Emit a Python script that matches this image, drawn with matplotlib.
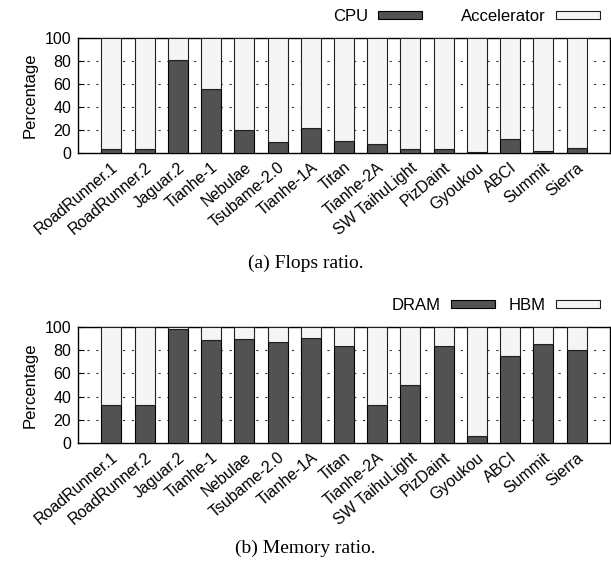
import matplotlib
matplotlib.use('Agg')
import matplotlib.pyplot as plt
import numpy as np

systems = ['RoadRunner.1', 'RoadRunner.2', 'Jaguar.2', 'Tianhe-1', 'Nebulae',
           'Tsubame-2.0', 'Tianhe-1A', 'Titan', 'Tianhe-2A', 'SW TaihuLight',
           'PizDaint', 'Gyoukou', 'ABCI', 'Summit', 'Sierra']

# (a) flops ratio, CPU share in percent (rest is accelerator)
cpu_flops = [3, 3, 81, 55, 20, 9, 22, 10, 8, 3, 3, 1, 12, 2, 4]
# (b) memory ratio, DRAM share in percent (rest is HBM)
dram_mem = [33, 33, 98, 89, 90, 87, 91, 84, 33, 50, 84, 6, 75, 85, 80]

plt.rcParams['font.family'] = ['Liberation Sans', 'DejaVu Sans']
plt.rcParams['font.size'] = 11.5

dark = '#525252'
light = '#f5f5f5'

fig = plt.figure(figsize=(6.11, 5.62), dpi=100)
ax1 = fig.add_axes([0.128, 0.728, 0.870, 0.205])
ax2 = fig.add_axes([0.128, 0.212, 0.870, 0.206])


def draw(ax, lower, labels, caption, cap_y, colsp):
    x = np.arange(len(systems))
    lower = np.array(lower)
    upper = 100 - lower
    ax.bar(x, lower, 0.6, color=dark, edgecolor='black', linewidth=0.8,
           label=labels[0], zorder=3)
    ax.bar(x, upper, 0.6, bottom=lower, color=light, edgecolor='#202020',
           linewidth=0.8, label=labels[1], zorder=3)
    ax.set_xlim(-1, len(systems))
    ax.set_ylim(0, 100)
    ax.set_yticks([0, 20, 40, 60, 80, 100])
    ax.set_xticks(x)
    ax.set_xticklabels(systems, rotation=40, ha='right', rotation_mode='anchor',
                       fontsize=11.5)
    ax.tick_params(axis='x', length=0, pad=5)
    ax.tick_params(axis='y', direction='in', length=4, labelsize=11.5, pad=5)
    ax.set_ylabel('Percentage', fontsize=12, labelpad=5)
    for y in [20, 40, 60, 80]:
        ax.axhline(y, color='#333333', linestyle=(0, (2, 6)), linewidth=0.8, zorder=1)
    for s in ax.spines.values():
        s.set_linewidth(1.0)
    ax.legend(loc='center right', bbox_to_anchor=(0.981, 1.185), ncol=2,
              frameon=False, markerfirst=False, borderaxespad=0, borderpad=0,
              handlelength=2.65, handleheight=0.4, columnspacing=colsp,
              handletextpad=0.6, fontsize=12)
    fig.text(0.5, cap_y, caption, ha='center', va='center', fontsize=14,
             family=['Liberation Serif', 'DejaVu Serif'])


draw(ax1, cpu_flops, ['CPU', 'Accelerator'], '(a) Flops ratio.', 1 - 263 / 562, 2.3)
draw(ax2, dram_mem, ['DRAM', 'HBM'], '(b) Memory ratio.', 1 - 548 / 562, 0.8)

fig.savefig('out.png', dpi=100)
